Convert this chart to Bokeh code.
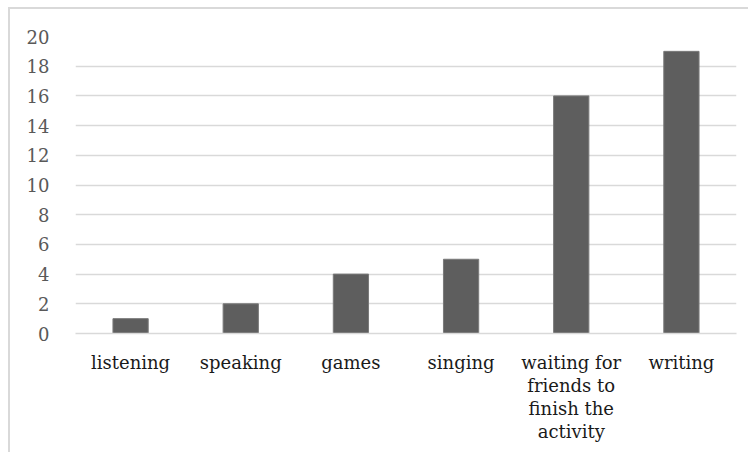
from bokeh.plotting import figure
from bokeh.models import FactorRange, Range1d, SingleIntervalTicker, ColumnDataSource
from bokeh.embed import file_html
from bokeh.resources import INLINE

# Activities and the number of responses for each
categories = ["listening", "speaking", "games", "singing",
              "waiting for\nfriends to\nfinish the\nactivity", "writing"]
counts = [1, 2, 4, 5, 16, 19]

source = ColumnDataSource(data=dict(cat=categories, count=counts))

FONT = "DejaVu Serif"

p = figure(
    x_range=FactorRange(*categories, range_padding=0),
    y_range=Range1d(0, 20),
    width=740, height=445,
    output_backend="svg", toolbar_location=None,
    min_border_left=65, min_border_right=14,
    min_border_top=27, min_border_bottom=121,
    background_fill_color="white", border_fill_color="white",
    outline_line_color=None,
    stylesheets=[":host { margin: 7px 0 0 8px; border-left: 2px solid #d9d9d9; "
                 "border-top: 2px solid #d9d9d9; border-right: none; border-bottom: none; }"],
)

p.vbar(x="cat", top="count", width=0.32, source=source,
       fill_color="#5e5e5e", line_color="#7a7a7a", line_width=1)

# y axis: labels only, every 2
p.yaxis.ticker = SingleIntervalTicker(interval=2)
p.yaxis.axis_line_color = None
p.yaxis.major_tick_line_color = None
p.yaxis.minor_tick_line_color = None
p.yaxis.major_label_standoff = 20
p.yaxis.major_label_text_font = FONT
p.yaxis.major_label_text_font_size = "18px"
p.yaxis.major_label_text_color = "#595959"

# x axis: light baseline, wrapped category labels
p.xaxis.axis_line_color = "#d9d9d9"
p.xaxis.axis_line_width = 1.5
p.xaxis.major_tick_line_color = None
p.xaxis.minor_tick_line_color = None
p.xaxis.major_label_standoff = 12
p.xaxis.major_label_text_font = FONT
p.xaxis.major_label_text_font_size = "18px"
p.xaxis.major_label_text_color = "#1a1a1a"
p.xaxis.major_label_text_line_height = 1.1

p.xgrid.grid_line_color = None
p.ygrid.grid_line_color = "#d9d9d9"
p.ygrid.grid_line_width = 1.5

open("out.html", "w").write(file_html(p, INLINE))
